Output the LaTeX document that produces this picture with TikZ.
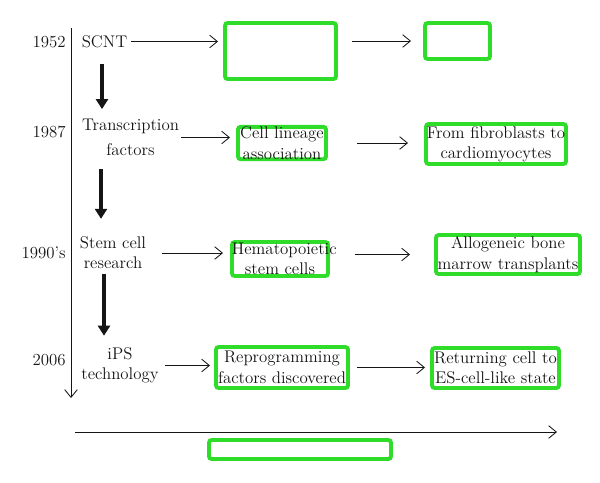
\documentclass[tikz,border=0pt]{standalone}
\usepackage{tikz}
\usepackage{xcolor}
\usetikzlibrary{positioning,arrows.meta,calc}
\definecolor{marker}{HTML}{30DC2A}
\definecolor{ink}{HTML}{151515}

\begin{document}
\begin{tikzpicture}[
    x=0.025cm, y=-0.025cm,
    year/.style={anchor=east, inner sep=0pt, text=ink, font=\fontsize{12}{14.2}\selectfont},
    event/.style={align=center, inner sep=0pt, text=ink, font=\fontsize{12}{14.2}\selectfont},
    outcome/.style={rectangle, draw=marker, line width=2.8pt, rounded corners=2pt, fill=white, inner sep=0pt, align=center, text=ink, font=\fontsize{12}{14.5}\selectfont},
    arrow/.style={-{Straight Barb[length=5.5pt,width=9pt]}, line width=0.6pt, draw=ink},
    bigarrow/.style={-{Triangle[length=7pt,width=9pt,line width=0pt]}, line width=3.5pt, draw=ink, fill=ink}
]
    \useasboundingbox (0,0) rectangle (600,482);

    % Time axes
    \coordinate (t_top) at (71,28);
    \coordinate (t_end) at (71,398);
    \coordinate (h_start) at (75,432);
    \coordinate (h_end) at (557,432);
    \draw[arrow] (t_top) -- (t_end);
    \draw[arrow] (h_start) -- (h_end);

    % Years
    \node[year] (y1952) at (66,42) {1952};
    \node[year] (y1987) at (66,132) {1987};
    \node[year] (y1990) at (66,253) {1990's};
    \node[year] (y2006) at (66,360) {2006};

    % Milestones
    \node[event] (scnt) at (104.5,41.5) {SCNT};
    \node[event] (trans) at (130.5,137.5) {Transcription\\[3.5pt]factors};
    \node[event] (stem) at (113,253) {Stem cell\\research};
    \node[event] (ips) at (120,365.5) {iPS\\technology};

    % Outcomes
    \node[outcome, text width=2.775cm, minimum height=1.4cm] (scnt_out1) at (280.5,51) {};
    \node[outcome, text width=1.625cm, minimum height=0.9cm] (scnt_out2) at (457.5,41) {};
    \node[outcome, text width=2.2cm, minimum height=0.8cm] (tf_out1) at (282,143) {Cell lineage\\association};
    \node[outcome, text width=3.5cm, minimum height=1.0cm] (tf_out2) at (496,144) {From fibroblasts to\\cardiomyocytes};
    \node[outcome, text width=2.4cm, minimum height=0.85cm] (sc_out1) at (280,259) {Hematopoietic\\stem cells};
    \node[outcome, text width=3.6cm, minimum height=0.975cm] (sc_out2) at (508,254.5) {Allogeneic bone\\marrow transplants};
    \node[outcome, text width=3.3cm, minimum height=1.025cm] (ips_out1) at (282,367.5) {Reprogramming\\factors discovered};
    \node[outcome, text width=3.175cm, minimum height=1.0cm] (ips_out2) at (495.5,368) {Returning cell to\\ES-cell-like state};
    \node[outcome, text width=4.55cm, minimum height=0.475cm] (time_box) at (300,449.5) {};

    % Arrows: milestone to milestone
    \draw[bigarrow] ($(scnt.south)+(-2.5,16)$) -- ($(scnt.south |- trans.north)+(-2.5,-10)$);
    \draw[bigarrow] ($(trans.south)+(-29.5,13)$) -- ($(trans.south |- stem.north)+(-29.5,-18)$);
    \draw[bigarrow] ($(stem.south)+(-9,5)$) -- ($(stem.south |- ips.north)+(-9,-12)$);

    % Arrows: milestone to outcomes
    \draw[arrow, shorten <=1mm, shorten >=1.25mm] (scnt.east) -- (scnt.east -| scnt_out1.west);
    \draw[arrow, shorten <=3.5mm, shorten >=3mm] (scnt_out1.east |- scnt_out2) -- (scnt_out2.west);
    \draw[arrow, shorten <=0.5mm, shorten >=1.5mm] (trans.east) -- (trans.east -| tf_out1.west);
    \draw[arrow, shorten <=7.25mm, shorten >=4mm] (tf_out1.east) -- (tf_out1.east -| tf_out2.west);
    \draw[arrow, shorten <=4mm, shorten >=1.75mm] (stem.east) -- (stem.east -| sc_out1.west);
    \draw[arrow, shorten <=6.25mm, shorten >=6mm] (sc_out1.east |- sc_out2) -- (sc_out2.west);
    \draw[arrow, shorten <=1.5mm, shorten >=1mm] (ips.east) -- (ips.east -| ips_out1.west);
    \draw[arrow, shorten <=1.75mm, shorten >=1.25mm] (ips_out1.east) -- (ips_out1.east -| ips_out2.west);
\end{tikzpicture}
\end{document}
